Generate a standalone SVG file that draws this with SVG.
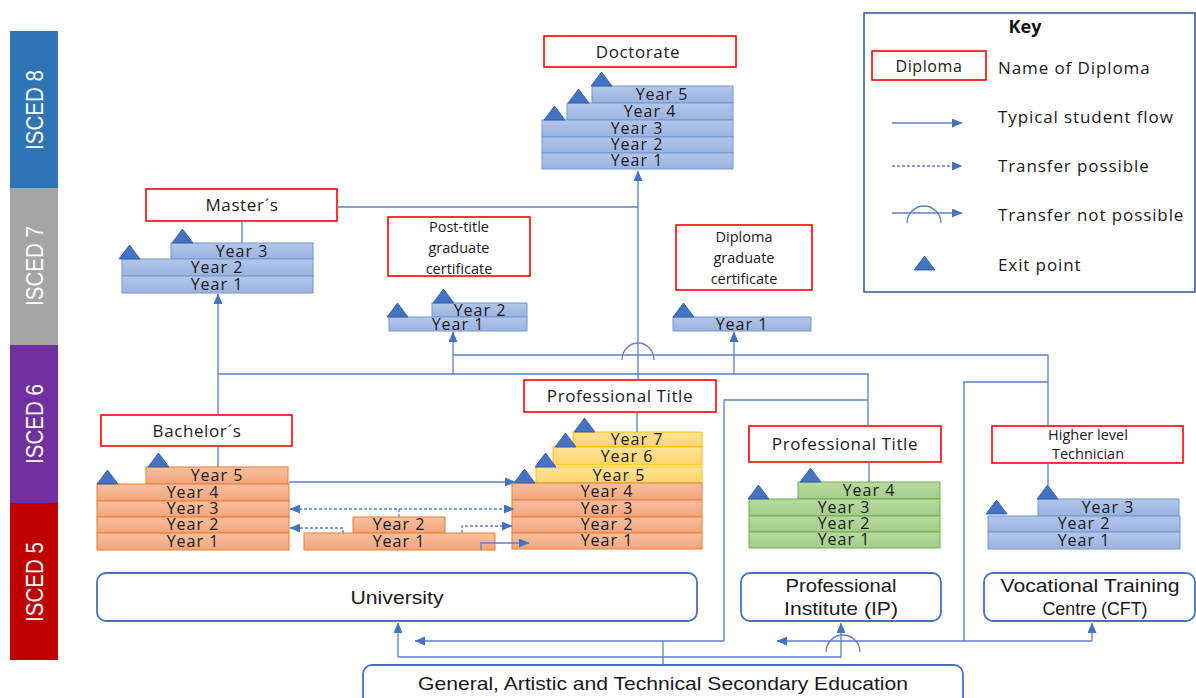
<svg xmlns="http://www.w3.org/2000/svg" xmlns:xlink="http://www.w3.org/1999/xlink" width="1196" height="698" viewBox="0 0 1196 698">
<style>
.t{font-family:"Open Sans","Noto Sans","Liberation Sans",sans-serif;fill:#1a1a1a;text-anchor:middle}
.yr{font-size:16px;letter-spacing:1px}
.lbl{font-size:17px;letter-spacing:0.6px}
.sm{font-size:14.5px}
.key{font-family:"Open Sans","Noto Sans","Liberation Sans",sans-serif;fill:#1a1a1a;font-size:17px;letter-spacing:0.9px}
.nar{font-family:"Liberation Sans Narrow","Liberation Sans",sans-serif;fill:#1a1a1a;font-size:19px;text-anchor:middle}
.isced{font-family:"Liberation Sans Narrow","Liberation Sans",sans-serif;fill:#ffffff;font-size:24px;text-anchor:middle}
.red{fill:#ffffff;stroke:#ff0000;stroke-width:1.6}
.inst{fill:#ffffff;stroke:#4472C4;stroke-width:1.8}
.blue{fill:url(#gB);stroke:#7396D4;stroke-width:1}
.orange{fill:url(#gO);stroke:#ED7D31;stroke-width:1}
.yellow{fill:url(#gY);stroke:#FFC000;stroke-width:1}
.green{fill:url(#gG);stroke:#70AD47;stroke-width:1}
.flow{fill:none;stroke:#5B80C8;stroke-width:1.3}
.dash{fill:none;stroke:#5B80C8;stroke-width:1.3;stroke-dasharray:3 2}
.tri{fill:#4472C4;stroke:#2F5597;stroke-width:0.8}
</style>
<defs>
<linearGradient id="gB" x1="0" y1="0" x2="0" y2="1"><stop offset="0" stop-color="#B4C6EA"/><stop offset="1" stop-color="#9AB3E1"/></linearGradient>
<linearGradient id="gO" x1="0" y1="0" x2="0" y2="1"><stop offset="0" stop-color="#F8C0A0"/><stop offset="1" stop-color="#F2A57D"/></linearGradient>
<linearGradient id="gY" x1="0" y1="0" x2="0" y2="1"><stop offset="0" stop-color="#FFE39A"/><stop offset="1" stop-color="#FFD56B"/></linearGradient>
<linearGradient id="gG" x1="0" y1="0" x2="0" y2="1"><stop offset="0" stop-color="#B9DBA2"/><stop offset="1" stop-color="#A2CD86"/></linearGradient>
<marker id="ah" markerUnits="userSpaceOnUse" markerWidth="11" markerHeight="9" refX="10" refY="4.5" orient="auto"><path d="M0,0 L10.5,4.5 L0,9 Z" fill="#4472C4"/></marker>
<path id="tr" class="tri" d="M0,14 L10.5,0 L21,14 Z"/>
</defs>

<g id="isced">
<rect x="10" y="31" width="48" height="157" fill="#2E75B6"/>
<rect x="10" y="188" width="48" height="157" fill="#A5A5A5"/>
<rect x="10" y="345" width="48" height="158" fill="#7030A0"/>
<rect x="10" y="503" width="48" height="157" fill="#C00000"/>
<text class="isced" transform="translate(43,110) rotate(-90)" textLength="80" lengthAdjust="spacingAndGlyphs">ISCED 8</text>
<text class="isced" transform="translate(43,266) rotate(-90)" textLength="80" lengthAdjust="spacingAndGlyphs">ISCED 7</text>
<text class="isced" transform="translate(43,424) rotate(-90)" textLength="80" lengthAdjust="spacingAndGlyphs">ISCED 6</text>
<text class="isced" transform="translate(43,582) rotate(-90)" textLength="80" lengthAdjust="spacingAndGlyphs">ISCED 5</text>
</g>

<g id="doctorate">
<rect class="red" x="544" y="36" width="192" height="31"/>
<text class="t lbl" x="638" y="58">Doctorate</text>
<rect class="blue" x="592" y="86" width="141" height="17"/><text class="t yr" x="662" y="100">Year 5</text>
<rect class="blue" x="567" y="103" width="166" height="17"/><text class="t yr" x="650" y="117">Year 4</text>
<rect class="blue" x="542" y="120" width="191" height="17"/><text class="t yr" x="637" y="134">Year 3</text>
<rect class="blue" x="542" y="137" width="191" height="16"/><text class="t yr" x="637" y="150">Year 2</text>
<rect class="blue" x="542" y="153" width="191" height="16"/><text class="t yr" x="637" y="166">Year 1</text>
<use xlink:href="#tr" x="544" y="106"/><use xlink:href="#tr" x="568" y="89"/><use xlink:href="#tr" x="591" y="72"/>
</g>

<g id="masters">
<rect class="red" x="146" y="189" width="191" height="32"/>
<text class="t lbl" x="242" y="211">Master´s</text>
<rect class="blue" x="171" y="243" width="142" height="16"/><text class="t yr" x="242" y="257">Year 3</text>
<rect class="blue" x="122" y="259" width="191" height="17"/><text class="t yr" x="217" y="273">Year 2</text>
<rect class="blue" x="122" y="276" width="191" height="17"/><text class="t yr" x="217" y="290">Year 1</text>
<use xlink:href="#tr" x="119" y="245"/><use xlink:href="#tr" x="172" y="229"/>
</g>

<g id="post-title">
<rect class="red" x="388" y="217" width="142" height="59"/>
<text class="t sm" x="459" y="232">Post-title</text>
<text class="t sm" x="459" y="253">graduate</text>
<text class="t sm" x="459" y="274">certificate</text>
<rect class="blue" x="432" y="303" width="95" height="14"/><text class="t yr" x="480" y="316">Year 2</text>
<rect class="blue" x="389" y="317" width="138" height="14"/><text class="t yr" x="458" y="330">Year 1</text>
<use xlink:href="#tr" x="387" y="303"/><use xlink:href="#tr" x="433" y="289"/>
</g>

<g id="diploma-cert">
<rect class="red" x="676" y="225" width="136" height="65"/>
<text class="t sm" x="744" y="242">Diploma</text>
<text class="t sm" x="744" y="263">graduate</text>
<text class="t sm" x="744" y="284">certificate</text>
<rect class="blue" x="673" y="317" width="138" height="14"/><text class="t yr" x="742" y="330">Year 1</text>
<use xlink:href="#tr" x="673" y="303"/>
</g>

<g id="bachelors">
<rect class="red" x="101" y="415" width="191" height="31"/>
<text class="t lbl" x="197" y="437">Bachelor´s</text>
<rect class="orange" x="146" y="467" width="142" height="17"/><text class="t yr" x="217" y="481">Year 5</text>
<rect class="orange" x="97" y="484" width="192" height="17"/><text class="t yr" x="193" y="498">Year 4</text>
<rect class="orange" x="97" y="501" width="192" height="16"/><text class="t yr" x="193" y="514">Year 3</text>
<rect class="orange" x="97" y="517" width="192" height="16"/><text class="t yr" x="193" y="530">Year 2</text>
<rect class="orange" x="97" y="533" width="192" height="17"/><text class="t yr" x="193" y="547">Year 1</text>
<use xlink:href="#tr" x="97" y="470"/><use xlink:href="#tr" x="148" y="453"/>
</g>

<g id="short-cycle">
<rect class="orange" x="353" y="517" width="92" height="16"/><text class="t yr" x="399" y="530">Year 2</text>
<rect class="orange" x="304" y="533" width="191" height="17"/><text class="t yr" x="399" y="547">Year 1</text>
</g>

<g id="professional-title-univ">
<rect class="red" x="524" y="380" width="192" height="32"/>
<text class="t lbl" x="620" y="402">Professional Title</text>
<rect class="yellow" x="573" y="432" width="129" height="15"/><text class="t yr" x="637" y="445">Year 7</text>
<rect class="yellow" x="553" y="447" width="149" height="18"/><text class="t yr" x="627" y="462">Year 6</text>
<rect class="yellow" x="536" y="467" width="166" height="16"/><text class="t yr" x="619" y="481">Year 5</text>
<rect class="orange" x="512" y="483" width="190" height="17"/><text class="t yr" x="607" y="497">Year 4</text>
<rect class="orange" x="512" y="500" width="190" height="17"/><text class="t yr" x="607" y="514">Year 3</text>
<rect class="orange" x="512" y="517" width="190" height="16"/><text class="t yr" x="607" y="530">Year 2</text>
<rect class="orange" x="512" y="533" width="190" height="16"/><text class="t yr" x="607" y="546">Year 1</text>
<use xlink:href="#tr" x="514" y="469"/><use xlink:href="#tr" x="535" y="453"/><use xlink:href="#tr" x="555" y="433"/><use xlink:href="#tr" x="574" y="418"/>
</g>

<g id="professional-title-ip">
<rect class="red" x="749" y="426" width="192" height="36"/>
<text class="t lbl" x="845" y="450">Professional Title</text>
<rect class="green" x="798" y="482" width="142" height="17"/><text class="t yr" x="869" y="496">Year 4</text>
<rect class="green" x="749" y="499" width="191" height="17"/><text class="t yr" x="844" y="513">Year 3</text>
<rect class="green" x="749" y="516" width="191" height="16"/><text class="t yr" x="844" y="529">Year 2</text>
<rect class="green" x="749" y="532" width="191" height="16"/><text class="t yr" x="844" y="545">Year 1</text>
<use xlink:href="#tr" x="748" y="485"/><use xlink:href="#tr" x="800" y="468"/>
</g>

<g id="higher-technician">
<rect class="red" x="992" y="426" width="191" height="37"/>
<text class="t sm" x="1088" y="440">Higher level</text>
<text class="t sm" x="1088" y="459">Technician</text>
<rect class="blue" x="1038" y="499" width="141" height="17"/><text class="t yr" x="1108" y="513">Year 3</text>
<rect class="blue" x="988" y="516" width="192" height="16"/><text class="t yr" x="1084" y="529">Year 2</text>
<rect class="blue" x="988" y="532" width="192" height="17"/><text class="t yr" x="1084" y="546">Year 1</text>
<use xlink:href="#tr" x="986" y="500"/><use xlink:href="#tr" x="1037" y="485"/>
</g>

<g id="university">
<rect class="inst" x="97" y="573" width="600" height="48" rx="9"/>
<text class="nar" x="397" y="604" textLength="93" lengthAdjust="spacingAndGlyphs">University</text>
</g>
<g id="ip">
<rect class="inst" x="741" y="573" width="200" height="48" rx="9"/>
<text class="nar" x="841" y="592" textLength="111" lengthAdjust="spacingAndGlyphs">Professional</text>
<text class="nar" x="841" y="615" textLength="114" lengthAdjust="spacingAndGlyphs">Institute (IP)</text>
</g>
<g id="cft">
<rect class="inst" x="984" y="573" width="211" height="48" rx="9"/>
<text class="nar" x="1090" y="592" textLength="179" lengthAdjust="spacingAndGlyphs">Vocational Training</text>
<text class="nar" x="1095" y="615" textLength="105" lengthAdjust="spacingAndGlyphs">Centre (CFT)</text>
</g>
<g id="secondary">
<rect class="inst" x="363" y="665" width="600" height="45" rx="9"/>
<text class="nar" x="663" y="690" textLength="490" lengthAdjust="spacingAndGlyphs">General, Artistic and Technical Secondary Education</text>
</g>

<g id="connectors">
<path class="flow" d="M638,380 V171" marker-end="url(#ah)"/>
<path class="flow" d="M337,207 H638"/>
<path class="flow" d="M242,221 V243"/>
<path class="flow" d="M218,415 V294" marker-end="url(#ah)"/>
<path class="flow" d="M218,374 H868 V426"/>
<path class="flow" d="M453,374 V332" marker-end="url(#ah)"/>
<path class="flow" d="M734,374 V332" marker-end="url(#ah)"/>
<path class="flow" d="M453,355 H1048 V426"/>
<path class="flow" d="M1048,463 V486"/>
<path class="flow" d="M622,360 A16,17 0 0 1 654,360"/>
<path class="flow" d="M218,446 V467"/>
<path class="flow" d="M637,412 V432"/>
<path class="flow" d="M869,462 V482"/>
<path class="flow" d="M289,482 H515" marker-end="url(#ah)"/>
<path class="flow" d="M724,641 V400 H868"/>
<path class="flow" d="M964,641 V382 H1048"/>
<path class="flow" d="M481,550 V543 H529" marker-end="url(#ah)"/>
<path class="flow" d="M663,665 V641"/>
<path class="flow" d="M724,641 H415" marker-end="url(#ah)"/>
<path class="flow" d="M1092,641 H777" marker-end="url(#ah)"/>
<path class="flow" d="M1092,641 V623" marker-end="url(#ah)"/>
<path class="flow" d="M398,657 V623" marker-end="url(#ah)"/>
<path class="flow" d="M398,657 H841 V623" marker-end="url(#ah)"/>
<path class="flow" d="M826,652 A17,17 0 0 1 860,652"/>
<path class="dash" d="M399,517 V509 H290" marker-end="url(#ah)"/>
<path class="dash" d="M399,509 H514" marker-end="url(#ah)"/>
<path class="dash" d="M343,533 V528 H290" marker-end="url(#ah)"/>
<path class="dash" d="M462,533 V526 H512" marker-end="url(#ah)"/>
</g>

<g id="key">
<rect x="864" y="13" width="331" height="279" fill="#ffffff" stroke="#2F5597" stroke-width="1.5"/>
<text x="1025" y="33" font-family="Open Sans, Noto Sans, Liberation Sans, sans-serif" font-weight="bold" font-size="18" fill="#111" text-anchor="middle">Key</text>
<rect class="red" x="872" y="51" width="114" height="29"/>
<text class="t" x="929" y="72" font-size="16" letter-spacing="0.6">Diploma</text>
<text class="key" x="998" y="74">Name of Diploma</text>
<path class="flow" d="M892,123 H962" marker-end="url(#ah)"/>
<text class="key" x="998" y="123">Typical student flow</text>
<path class="dash" d="M892,166 H962" marker-end="url(#ah)"/>
<text class="key" x="998" y="172">Transfer possible</text>
<path class="flow" d="M892,213 H962" marker-end="url(#ah)"/>
<path class="flow" d="M907,223 A17,17 0 0 1 941,223"/>
<text class="key" x="998" y="221">Transfer not possible</text>
<use xlink:href="#tr" x="914" y="256"/>
<text class="key" x="998" y="271">Exit point</text>
</g>
</svg>
